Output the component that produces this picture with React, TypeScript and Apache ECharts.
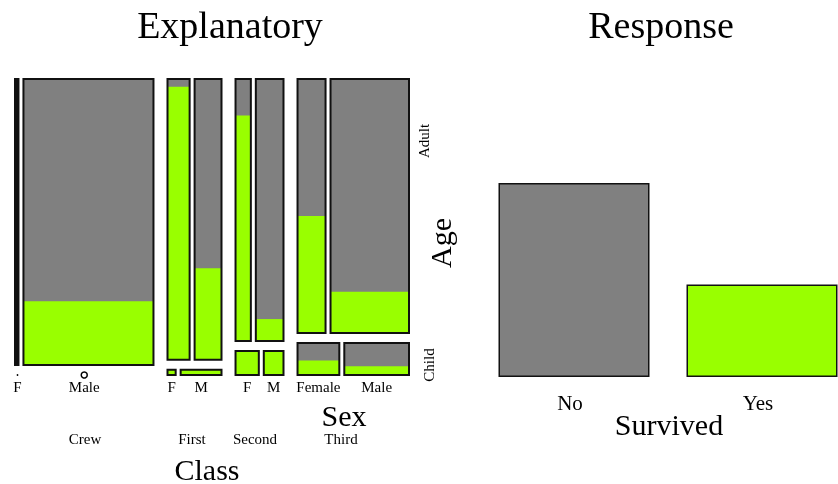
import React, { useEffect, useRef } from 'react';
import * as echarts from 'echarts';

// ---- Data (Titanic: Class x Sex x Age x Survived) ----
const classes = ['Crew', 'First', 'Second', 'Third'];
const sexNames = [['F', 'Male'], ['F', 'M'], ['F', 'M'], ['Female', 'Male']];
const ageLevels = ['Child', 'Adult'];
const responseLevels = ['No', 'Yes'];

const femaleAdultNo = [3, 4, 13, 89];
const femaleAdultYes = [20, 140, 80, 76];
const femaleChildNo = [0, 0, 0, 17];
const femaleChildYes = [0, 1, 13, 14];
const maleAdultNo = [670, 118, 154, 387];
const maleAdultYes = [192, 57, 14, 75];
const maleChildNo = [0, 0, 0, 35];
const maleChildYes = [0, 5, 11, 13];

// ---- Layout constants ----
const GAP_CLASS = 93; // in person units
const GAP_SEX = 33;
const GAP_V = 10 / 296;
const GRAY = '#808080';
const GREEN = '#99FF00';
const FONT = "'Liberation Serif', 'Times New Roman', serif";
const CLASS_LABEL_X = [85, 192, 255, 341];

type Cell = { x0: number; x1: number; y0: number; y1: number; yes: number; total: number; r: number };

function buildMosaic() {
  const cells: Cell[] = [];
  const sexLabels: { x: number; text: string }[] = [];
  let x = 0;
  classes.forEach((_, c) => {
    const fA = femaleAdultNo[c] + femaleAdultYes[c];
    const mA = maleAdultNo[c] + maleAdultYes[c];
    const fC = femaleChildNo[c] + femaleChildYes[c];
    const mC = maleChildNo[c] + maleChildYes[c];
    const adult = fA + mA;
    const child = fC + mC;
    const total = adult + child;
    const W = total;
    const avail = 1 - GAP_V;
    const childH = (avail * child) / total;
    const rows = [
      { y0: 0, y1: childH, f: fC, fy: femaleChildYes[c], m: mC, my: maleChildYes[c] },
      { y0: childH + GAP_V, y1: 1, f: fA, fy: femaleAdultYes[c], m: mA, my: maleAdultYes[c] },
    ];
    rows.forEach((row, ri) => {
      const rt = row.f + row.m;
      if (rt > 0) {
        const fw = (W * row.f) / rt;
        cells.push({ x0: x, x1: x + fw, y0: row.y0, y1: row.y1, yes: row.fy, total: row.f, r: 0 });
        cells.push({ x0: x + fw + GAP_SEX, x1: x + W + GAP_SEX, y0: row.y0, y1: row.y1, yes: row.my, total: row.m, r: 0 });
        if (ri === 0) {
          sexLabels.push({ x: x + fw / 2, text: sexNames[c][0] });
          sexLabels.push({ x: x + fw + GAP_SEX + (W - fw) / 2, text: sexNames[c][1] });
        }
      } else {
        // empty row: zero markers
        const fx = x + GAP_SEX / 2;
        const mx = x + (W + GAP_SEX) / 2;
        const fr = Math.min(3, ((W * fA) / adult) * 0.15 / 4);
        const mr = Math.min(3, ((W * mA) / adult) * 0.15 / 4);
        cells.push({ x0: fx, x1: fx, y0: row.y0, y1: row.y0, yes: 0, total: 0, r: fr });
        cells.push({ x0: mx, x1: mx, y0: row.y0, y1: row.y0, yes: 0, total: 0, r: mr });
        if (ri === 0) {
          sexLabels.push({ x: fx, text: sexNames[c][0] });
          sexLabels.push({ x: mx, text: sexNames[c][1] });
        }
      }
    });
    x += W + GAP_SEX + GAP_CLASS;
  });
  return { cells, sexLabels, xMax: x - GAP_CLASS };
}

export default function App() {
  const ref = useRef<HTMLDivElement>(null);
  useEffect(() => {
    if (!ref.current) return;
    const chart = echarts.init(ref.current, undefined, { renderer: 'svg' });
    const { cells, sexLabels, xMax } = buildMosaic();
    const noTotal = [femaleAdultNo, femaleChildNo, maleAdultNo, maleChildNo].reduce(
      (s, a) => s + a.reduce((p, v) => p + v, 0), 0);
    const yesTotal = [femaleAdultYes, femaleChildYes, maleAdultYes, maleChildYes].reduce(
      (s, a) => s + a.reduce((p, v) => p + v, 0), 0);
    const responseValues = [noTotal, yesTotal];

    const txt = (text: string, x: number, y: number, size: number, rot = 0) => ({
      type: 'text',
      x, y, rotation: rot,
      style: { text, fill: '#000', font: `${size}px ${FONT}`, textAlign: 'center', textVerticalAlign: 'middle' },
    });

    chart.setOption({
      animation: false,
      grid: [
        { left: 15, top: 79, width: 394, height: 296, outerBoundsMode: 'none' },
        { left: 480, top: 183, width: 376, height: 194, outerBoundsMode: 'none' },
      ],
      xAxis: [
        { type: 'value', gridIndex: 0, min: 0, max: xMax, show: false },
        {
          type: 'category', gridIndex: 1, data: responseLevels,
          axisLine: { show: false }, axisTick: { show: false },
          axisLabel: {
            fontSize: 21, fontFamily: FONT, color: '#000', margin: 26, verticalAlign: 'middle',
            padding: [0, 8, 0, 0],
          },
        },
      ],
      yAxis: [
        { type: 'value', gridIndex: 0, min: 0, max: 1, show: false },
        { type: 'value', gridIndex: 1, min: 0, max: Math.max(...responseValues), show: false },
      ],
      graphic: [
        txt('Explanatory', 230, 25, 38),
        txt('Response', 661, 25, 38),
        txt('Age', 440, 243, 30, Math.PI / 2),
        txt('Adult', 424, 141, 15, Math.PI / 2),
        txt('Child', 429, 365, 15, Math.PI / 2),
        txt('Sex', 344, 415, 30),
        txt('Class', 207, 469, 30),
        txt('Survived', 669, 424, 30),
        ...classes.map((c, i) => txt(c, CLASS_LABEL_X[i], 439, 15)),
      ],
      series: [
        {
          type: 'custom',
          coordinateSystem: 'cartesian2d',
          xAxisIndex: 0, yAxisIndex: 0,
          encode: { x: [0, 1], y: [2, 3] },
          data: cells.map((c) => [c.x0, c.x1, c.y0, c.y1, c.yes, c.total, c.r]),
          renderItem: (params: any, api: any) => {
            const x0 = api.value(0), x1 = api.value(1), y0 = api.value(2), y1 = api.value(3);
            const yes = api.value(4), total = api.value(5), r = api.value(6);
            const p0 = api.coord([x0, y0]);
            const p1 = api.coord([x1, y1]);
            if (total === 0) {
              return {
                type: 'circle',
                shape: { cx: p0[0], cy: p0[1], r: Math.max(r, 0.7) },
                style: r > 1.5 ? { fill: 'none', stroke: '#000', lineWidth: 1.5 } : { fill: '#000' },
              };
            }
            const left = p0[0], right = p1[0], bottom = p0[1], top = p1[1];
            const w = right - left, h = bottom - top;
            const gh = (h * yes) / total;
            const thin = w < 6;
            return {
              type: 'group',
              children: [
                { type: 'rect', shape: { x: left, y: top, width: w, height: h }, style: { fill: thin ? '#111' : GRAY } },
                { type: 'rect', shape: { x: left, y: bottom - gh, width: w, height: gh }, style: { fill: thin ? '#111' : GREEN } },
                { type: 'rect', shape: { x: left, y: top, width: w, height: h }, style: { fill: 'none', stroke: '#111', lineWidth: 2 } },
              ],
            };
          },
        },
        {
          type: 'custom',
          coordinateSystem: 'cartesian2d',
          xAxisIndex: 0, yAxisIndex: 0,
          encode: { x: 0, y: 1 },
          data: sexLabels.map((l) => [l.x, 0]),
          renderItem: (params: any, api: any) => {
            const p = api.coord([api.value(0), api.value(1)]);
            return {
              type: 'text',
              x: p[0], y: p[1] + 12,
              style: {
                text: sexLabels[params.dataIndex].text, fill: '#000',
                font: `15px ${FONT}`, textAlign: 'center', textVerticalAlign: 'middle',
              },
            };
          },
        },
        {
          type: 'bar',
          xAxisIndex: 1, yAxisIndex: 1,
          barWidth: 151,
          data: responseValues.map((v, i) => ({
            value: v,
            itemStyle: { color: i === 0 ? GRAY : GREEN, borderColor: '#111', borderWidth: 1.5 },
          })),
        },
      ],
    });
    return () => chart.dispose();
  }, []);
  return <div ref={ref} style={{ position: 'fixed', left: 0, top: 0, width: 838, height: 484 }} />;
}
